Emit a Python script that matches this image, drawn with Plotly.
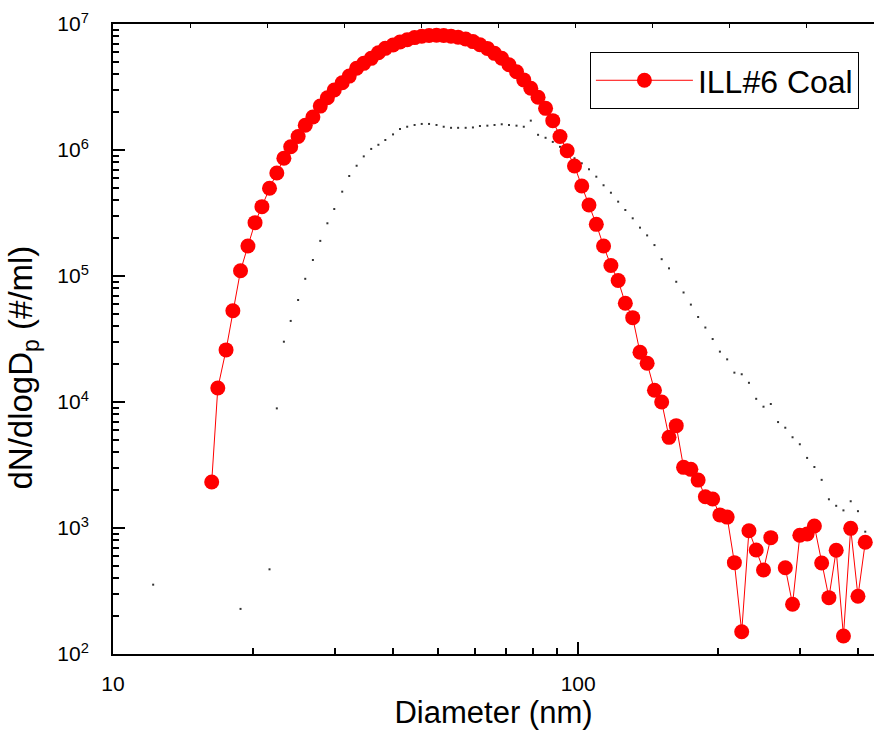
import plotly.graph_objects as go

# ---- data ----
coal_diam = [16.3, 16.8, 17.5, 18.1, 18.8, 19.5, 20.2, 20.9, 21.7, 22.5, 23.3, 24.1,
             25.0, 25.9, 26.9, 27.9, 28.9, 29.9, 31.1, 32.2, 33.4, 34.6, 35.9, 37.2,
             38.5, 40.0, 41.4, 42.9, 44.5, 46.1, 47.8, 49.6, 51.4, 53.3, 55.2, 57.3,
             59.4, 61.5, 63.8, 66.1, 68.5, 71.0, 73.7, 76.4, 79.1, 82.0, 85.1, 88.2,
             91.4, 94.7, 98.2, 101.8, 105.5, 109.4, 113.4, 117.6, 121.9, 126.3, 131.0,
             135.8, 140.7, 145.9, 151.2, 156.8, 162.5, 168.5, 174.7, 181.1, 187.7,
             194.6, 201.7, 209.1, 216.7, 224.7, 232.9, 241.4, 250.3, 259.5, 269.0,
             278.8, 289.0, 299.6, 310.6, 322.0, 333.8, 346.0, 358.7, 371.8, 385.4,
             399.5, 414.2]
coal_conc = [2317, 1.29e4, 2.59e4, 5.3e4, 1.1e5, 1.73e5, 2.65e5, 3.55e5, 4.97e5, 6.57e5,
             8.6e5, 1.06e6, 1.28e6, 1.57e6, 1.83e6, 2.23e6, 2.6e6, 2.99e6, 3.42e6, 3.86e6,
             4.45e6, 4.87e6, 5.34e6, 5.92e6, 6.41e6, 6.81e6, 7.2e6, 7.5e6, 7.8e6, 8.0e6,
             8.1e6, 8.15e6, 8.1e6, 8.0e6, 7.85e6, 7.6e6, 7.25e6, 6.85e6, 6.4e6, 5.85e6,
             5.35e6, 4.75e6, 4.18e6, 3.6e6, 3.09e6, 2.62e6, 2.14e6, 1.71e6, 1.28e6,
             9.87e5, 7.46e5, 5.18e5, 3.66e5, 2.57e5, 1.73e5, 1.21e5, 9.2e4, 6.07e4,
             4.67e4, 2.48e4, 2.03e4, 1.24e4, 1.0e4, 5.24e3, 6.49e3, 3.03e3, 2.92e3,
             2.4e3, 1.77e3, 1.70e3, 1.27e3, 1.22e3, 531, 150, 952, 669, 464, 838, None,
             484, 248, 875, 896, 1037, 527, 280, 665, 139, 994, 287, 770]

ref_diam = [12.2, 18.8, 21.7, 22.5, 23.3, 24.1, 25.0, 25.9, 26.9, 27.9, 28.9, 29.9,
            31.1, 32.2, 33.4, 34.6, 35.9, 37.2, 38.5, 40.0, 41.4, 42.9, 44.5, 46.1,
            47.8, 49.6, 51.4, 53.3, 55.2, 57.3, 59.4, 61.5, 63.8, 66.1, 68.5, 71.0,
            73.7, 76.4, 79.1, 82.0, 85.1, 88.2, 91.4, 94.7, 98.2, 101.8, 105.5, 109.4,
            113.4, 117.6, 121.9, 126.3, 131.0, 135.8, 140.7, 145.9, 151.2, 156.8,
            162.5, 168.5, 174.7, 181.1, 187.7, 194.6, 201.7, 209.1, 216.7, 224.7,
            232.9, 241.4, 250.3, 259.5, 269.0, 278.8, 289.0, 299.6, 310.6, 322.0,
            333.8, 346.0, 358.7, 371.8, 385.4, 399.5, 414.2]
ref_conc = [355, 228, 470, 8.9e3, 3.01e4, 4.4e4, 6.45e4, 9.5e4, 1.34e5, 1.9e5, 2.62e5,
            3.4e5, 4.67e5, 6.22e5, 7.5e5, 8.9e5, 1.02e6, 1.1e6, 1.2e6, 1.33e6, 1.47e6,
            1.53e6, 1.58e6, 1.61e6, 1.61e6, 1.58e6, 1.53e6, 1.5e6, 1.5e6, 1.5e6, 1.51e6,
            1.55e6, 1.56e6, 1.58e6, 1.6e6, 1.58e6, 1.56e6, 1.53e6, 1.71e6, 1.32e6,
            1.25e6, 1.16e6, 1.06e6, 9.6e5, 8.6e5, 7.84e5, 7.03e5, 6.14e5, 5.25e5,
            4.58e5, 3.89e5, 3.34e5, 2.87e5, 2.42e5, 2.1e5, 1.76e5, 1.36e5, 1.15e5,
            9.0e4, 7.4e4, 5.93e4, 4.73e4, 3.9e4, 3.16e4, 2.51e4, 2.18e4, 1.71e4,
            1.66e4, 1.42e4, 1.06e4, 9.18e3, 9.64e3, 6.93e3, 6.25e3, 5.25e3, 4.62e3,
            3.6e3, 3.05e3, 2.41e3, 1.69e3, 1.5e3, 1.38e3, 1.63e3, 1.36e3, 935]

x_tick_vals = [10, 100]
x_tick_text = ["10", "100"]
y_tick_vals = [1e2, 1e3, 1e4, 1e5, 1e6, 1e7]
y_tick_text = ["10<sup>2</sup>", "10<sup>3</sup>", "10<sup>4</sup>",
               "10<sup>5</sup>", "10<sup>6</sup>", "10<sup>7</sup>"]
top_tick_vals = list(range(0, 10))

FONT = "Liberation Sans, Arial, sans-serif"

fig = go.Figure()
fig.add_trace(go.Scatter(
    x=ref_diam, y=ref_conc, mode="markers", showlegend=False,
    marker=dict(size=2, color="#333333", symbol="square", line=dict(width=0)),
    hoverinfo="skip"))
fig.add_trace(go.Scatter(
    x=coal_diam, y=coal_conc, mode="lines+markers", name="ILL#6 Coal",
    line=dict(color="#FF0000", width=1),
    marker=dict(size=15, color="#FF0000", line=dict(width=0)),
    connectgaps=False))
# invisible trace carrying the top (mirror) axis
fig.add_trace(go.Scatter(x=[0], y=[1e3], xaxis="x2", mode="markers",
                         marker=dict(opacity=0), showlegend=False, hoverinfo="skip"))

fig.update_layout(
    width=874, height=748,
    margin=dict(l=113, r=0, t=24, b=94, autoexpand=False),
    paper_bgcolor="white", plot_bgcolor="white",
    font=dict(family=FONT, color="black"),
    showlegend=True,
    legend=dict(x=0.6267, y=0.9556, xanchor="left", yanchor="top",
                bordercolor="black", borderwidth=1, bgcolor="white",
                itemwidth=97,
                font=dict(size=32, family=FONT, color="black")),
    xaxis=dict(type="log", range=[1, 2.636], showgrid=False, zeroline=False,
               automargin=False,
               showline=True, linecolor="black", linewidth=2, mirror=True,
               ticks="inside", ticklen=12, tickwidth=2, tickcolor="black",
               tickvals=x_tick_vals, ticktext=x_tick_text,
               tickfont=dict(size=21, family=FONT, color="black"),
               ticklabelstandoff=10,
               minor=dict(ticks="inside", ticklen=6, tickwidth=2, tickcolor="black",
                          dtick="D1", showgrid=False),
               title=dict(text="Diameter (nm)", font=dict(size=31, family=FONT, color="black"),
                          standoff=6)),
    xaxis2=dict(overlaying="x", side="top", range=[0, 9.87], showgrid=False,
                automargin=False,
                zeroline=False, showline=False, ticks="inside", ticklen=4,
                tickwidth=1, tickcolor="black", tickvals=top_tick_vals,
                showticklabels=False),
    yaxis=dict(type="log", range=[2, 7], showgrid=False, zeroline=False,
               automargin=False,
               showline=True, linecolor="black", linewidth=2, mirror=False,
               ticks="inside", ticklen=12, tickwidth=2, tickcolor="black",
               tickvals=y_tick_vals, ticktext=y_tick_text,
               tickfont=dict(size=21, family=FONT, color="black"),
               ticklabelstandoff=18,
               minor=dict(ticks="inside", ticklen=6, tickwidth=2, tickcolor="black",
                          dtick="D1", showgrid=False)),
    annotations=[dict(text="dN/dlogD<sub>p</sub> (#/ml)", textangle=-90,
                      xref="paper", yref="paper", x=-0.118, y=0.455,
                      xanchor="center", yanchor="middle", showarrow=False,
                      font=dict(size=33, family=FONT, color="black"))],
)

fig.write_html("out.html",
               config={"displayModeBar": False},
               post_script="document.body.style.margin='0';"
                           "document.body.style.overflow='hidden';")
